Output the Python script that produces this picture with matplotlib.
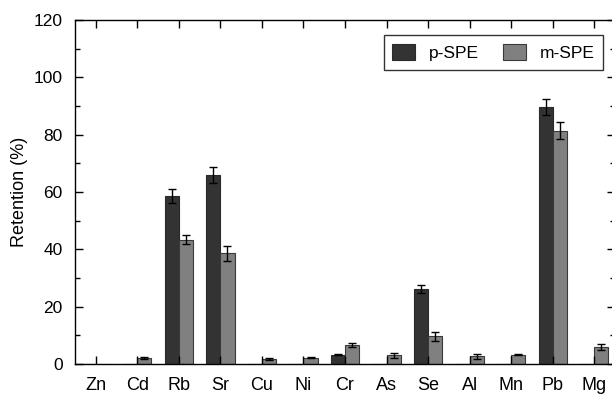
import numpy as np
import matplotlib
matplotlib.use("Agg")
import matplotlib.pyplot as plt
from matplotlib.ticker import MultipleLocator

plt.rcParams['font.family'] = ['Liberation Sans', 'DejaVu Sans']

elements = ['Zn', 'Cd', 'Rb', 'Sr', 'Cu', 'Ni', 'Cr', 'As', 'Se', 'Al', 'Mn', 'Pb', 'Mg']
p_spe = [0, 0, 58.5, 66.0, 0, 0, 3.3, 0, 26.2, 0, 0, 89.7, 0]
p_err = [0, 0, 2.4, 2.8, 0, 0, 0.3, 0, 1.3, 0, 0, 2.9, 0]
m_spe = [0, 2.2, 43.4, 38.6, 1.7, 2.2, 6.8, 3.0, 9.6, 2.7, 3.3, 81.4, 5.9]
m_err = [0, 0.3, 1.6, 2.5, 0.3, 0.2, 0.7, 1.0, 1.7, 0.8, 0.2, 2.9, 1.1]

x = np.arange(len(elements))
w = 0.34

fig = plt.figure(figsize=(6.12, 3.94), dpi=100)
ax = fig.add_axes([75/612, 30/394, 540/612, 344/394])

p = np.array(p_spe); pe = np.array(p_err)
m = np.array(m_spe); me = np.array(m_err)

ax.bar(x - w/2, p, w, color='#333333', edgecolor='#2a2a2a', linewidth=0.8, label='p-SPE')
ax.bar(x + w/2, m, w, color='#808080', edgecolor='#3a3a3a', linewidth=0.8, label='m-SPE')

# error bars only where there is a bar
mp = p > 0
mm = m > 0
ax.errorbar(x[mp] - w/2, p[mp], yerr=pe[mp], fmt='none', ecolor='black',
            elinewidth=1, capsize=3, capthick=1)
ax.errorbar(x[mm] + w/2, m[mm], yerr=me[mm], fmt='none', ecolor='black',
            elinewidth=1, capsize=3, capthick=1)

ax.set_xlim(-0.5, len(elements) - 0.5)
ax.set_ylim(0, 120)
ax.set_xticks(x)
ax.set_xticklabels(elements, fontsize=13)
ax.yaxis.set_major_locator(MultipleLocator(20))
ax.yaxis.set_minor_locator(MultipleLocator(10))
ax.tick_params(axis='both', which='both', direction='in', top=True, right=True)
ax.tick_params(axis='both', which='major', length=6, width=1)
ax.tick_params(axis='y', which='minor', length=3.5, width=1)
ax.tick_params(axis='x', pad=9, labelsize=13)
ax.tick_params(axis='y', pad=9, labelsize=12.5)
ax.set_ylabel('Retention (%)', fontsize=13, labelpad=4)

for s in ax.spines.values():
    s.set_linewidth(1)

leg = ax.legend(loc='upper right', ncol=2, fontsize=12.5, frameon=True, fancybox=False,
                edgecolor='black', handlelength=1.3, handleheight=1.1, columnspacing=1.4,
                borderpad=0.5, borderaxespad=0, bbox_to_anchor=(0.978, 0.956))
leg.get_frame().set_linewidth(1)

plt.savefig('out.png', dpi=100)
